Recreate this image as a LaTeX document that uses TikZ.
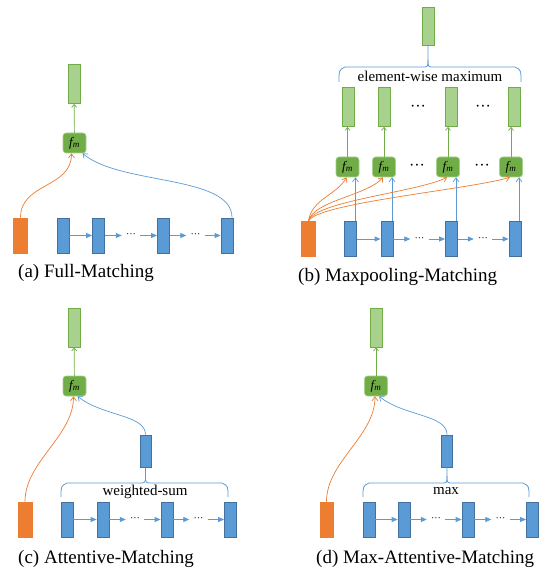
\documentclass[tikz,border=0pt]{standalone}
\usepackage{fontspec}
\setmainfont{Liberation Serif}
\usetikzlibrary{arrows.meta,positioning}
\definecolor{blfill}{HTML}{5B9BD5}
\definecolor{blline}{HTML}{41719C}
\definecolor{orfill}{HTML}{ED7D31}
\definecolor{gndark}{HTML}{70AD47}
\definecolor{gnlight}{HTML}{A9D18E}

\begin{document}
\begin{tikzpicture}[x=1pt,y=-1pt,%
  vec/.style={draw=blline,fill=blfill,line width=.8pt,minimum width=12pt,minimum height=35pt,inner sep=0pt},%
  qvec/.style={draw=orfill,fill=orfill,line width=.8pt,minimum width=14pt,minimum height=35pt,inner sep=0pt},%
  outvec/.style={draw=gndark,fill=gnlight,line width=.8pt,minimum width=12pt,minimum height=39pt,inner sep=0pt},%
  attvec/.style={vec,minimum width=11pt,minimum height=32pt},%
  fmbox/.style={draw=gnlight,fill=gndark,rounded corners=3pt,line width=.6pt,minimum width=23pt,minimum height=20pt,inner sep=0pt,font=\fontsize{13}{13}\selectfont},%
  dotsnode/.style={minimum width=18pt,inner sep=0pt,font=\fontsize{10}{10}\selectfont},%
  bigdots/.style={inner sep=0pt,font=\fontsize{16}{16}\selectfont},%
  nextarr/.style={draw=blfill,line width=.8pt,-{Triangle[length=6pt,width=5pt]}},%
  bluearr/.style={draw=blfill,line width=.7pt,-{Straight Barb[length=4pt,width=6pt]}},%
  orarr/.style={draw=orfill,line width=.7pt,-{Straight Barb[length=4pt,width=6pt]}},%
  gnarr/.style={draw=gndark,line width=.7pt,-{Straight Barb[length=3pt,width=5pt]}},%
  bracel/.style={draw=blfill,line width=.8pt},%
  caption/.style={anchor=west,inner sep=0pt,font=\fontsize{19}{19}\selectfont},%
  bracetext/.style={inner sep=0pt,font=\fontsize{15}{15}\selectfont}%
  ]%
\useasboundingbox[fill=white] (0,0) rectangle (548,577);

% (a) full matching
\node[qvec] (aq) at (20.5,235.5) {};
\node[vec] (a1) at (63,235.5) {};
\node[vec] (a2) at (98.5,235.5) {};
\node[vec] (a3) at (163.5,235.5) {};
\node[vec] (a4) at (227,235.5) {};
\node[dotsnode] (ad1) at (131,235.5) {\strut···};
\node[dotsnode] (ad2) at (195.5,235.5) {\strut···};
\draw[nextarr] (a1) -- (a2);
\draw[nextarr] (a2) -- (ad1);
\draw[nextarr] (ad1) -- (a3);
\draw[nextarr] (a3) -- (ad2);
\draw[nextarr] (ad2) -- (a4);
\node[fmbox] (afm) at (74.5,143) {\textit{f\textsubscript{m}}};
\node[outvec] (aout) at (74,84) {};
\draw[gnarr] (afm) -- (aout);
\draw[orarr] (aq.north) .. controls +(0,-35) and +(0,35) .. ([xshift=-3pt]afm.south);
\draw[bluearr] ([xshift=5pt]a4.north) .. controls +(0,-43) and +(37,32) .. ([xshift=8pt]afm.south);
\node[caption] (acap) at (18,273) {(a) Full-Matching};

% (b) maxpooling matching
\node[qvec] (bq) at (308.5,239) {};
\node[vec] (b1) at (350.5,239) {};
\node[vec] (b2) at (387,239) {};
\node[vec] (b3) at (451.5,239) {};
\node[vec] (b4) at (515,239) {};
\node[dotsnode] (bd1) at (419.5,239) {\strut···};
\node[dotsnode] (bd2) at (483,239) {\strut···};
\draw[nextarr] (b1) -- (b2);
\draw[nextarr] (b2) -- (bd1);
\draw[nextarr] (bd1) -- (b3);
\draw[nextarr] (b3) -- (bd2);
\draw[nextarr] (bd2) -- (b4);
\node[fmbox] (bfm1) at (347.5,167) {\textit{f\textsubscript{m}}};
\node[fmbox] (bfm2) at (384,167) {\textit{f\textsubscript{m}}};
\node[fmbox] (bfm3) at (448,167) {\textit{f\textsubscript{m}}};
\node[fmbox] (bfm4) at (511,167) {\textit{f\textsubscript{m}}};
\node[bigdots] (bfd1) at (417,167) {\strut···};
\node[bigdots] (bfd2) at (482,167) {\strut···};
\node[outvec] (bout1) at (348.5,107) {};
\node[outvec] (bout2) at (384.5,107) {};
\node[outvec] (bout3) at (451.5,107) {};
\node[outvec] (bout4) at (514,107) {};
\node[bigdots] (bod1) at (418,108) {\strut···};
\node[bigdots] (bod2) at (483,108) {\strut···};
\draw[gnarr] (bfm1) -- (bfm1 |- bout1.south);
\draw[gnarr] (bfm2) -- (bfm2 |- bout2.south);
\draw[gnarr] (bfm3) -- (bfm3 |- bout3.south);
\draw[gnarr] (bfm4) -- (bfm4 |- bout4.south);
\draw[bluearr] ([xshift=8pt]bfm1.south |- b1.north) -- ([xshift=8pt]bfm1.south);
\draw[bluearr] ([xshift=8pt]bfm2.south |- b2.north) -- ([xshift=8pt]bfm2.south);
\draw[bluearr] ([xshift=8pt]bfm3.south |- b3.north) -- ([xshift=8pt]bfm3.south);
\draw[bluearr] ([xshift=8pt]bfm4.south |- b4.north) -- ([xshift=8pt]bfm4.south);
\draw[orarr] (bq.north) .. controls +(3,-22) and +(-10,18) .. ([xshift=-1pt]bfm1.south);
\draw[orarr] (bq.north) .. controls +(4,-20) and +(-15,18) .. ([xshift=-1pt]bfm2.south);
\draw[orarr] (bq.north) .. controls +(6,-20) and +(-30,15) .. ([xshift=-1pt]bfm3.south);
\draw[orarr] (bq.north) .. controls +(8,-18) and +(-40,12) .. ([xshift=-1pt]bfm4.south);
\node[outvec,minimum height=38pt] (btop) at (428,26) {};
\coordinate (bbl) at (339,82);
\coordinate (bbr) at (521,82);
\draw[bracel] (bbl) .. controls (339,70) .. (345,67) -- (422,67) .. controls (428,67) .. (428,60) -- (btop.south);
\draw[bracel] (428,60) .. controls (428,67) .. (434,67) -- (515,67) .. controls (521,70) .. (bbr);
\node[bracetext] (bmax) at (430,76) {element-wise maximum};
\node[caption] (bcap) at (298,277) {(b) Maxpooling-Matching};

% (c) attentive matching
\node[qvec] (cq) at (25,519.5) {};
\node[vec] (c1) at (67,519.5) {};
\node[vec] (c2) at (103,519.5) {};
\node[vec] (c3) at (167,519.5) {};
\node[vec] (c4) at (230.5,519.5) {};
\node[dotsnode] (cd1) at (135,519.5) {\strut···};
\node[dotsnode] (cd2) at (198.5,519.5) {\strut···};
\draw[nextarr] (c1) -- (c2);
\draw[nextarr] (c2) -- (cd1);
\draw[nextarr] (cd1) -- (c3);
\draw[nextarr] (c3) -- (cd2);
\draw[nextarr] (cd2) -- (c4);
\node[attvec] (catt) at (145.5,451) {};
\coordinate (cbl) at (61,497);
\coordinate (cbr) at (228,497);
\draw[bracel] (cbl) .. controls (61,486) .. (67,483) -- (139,483) .. controls (145.5,483) .. (145.5,476) -- (catt.south);
\draw[bracel] (145.5,476) .. controls (145.5,483) .. (152,483) -- (222,483) .. controls (228,486) .. (cbr);
\node[bracetext] (csum) at (145,492) {weighted-sum};
\node[fmbox] (cfm) at (74.5,386) {\textit{f\textsubscript{m}}};
\node[outvec] (cout) at (74,327.5) {};
\draw[gnarr] (cfm) -- (cout);
\draw[orarr] (cq.north) .. controls +(0,-40) and +(0,40) .. ([xshift=-1pt]cfm.south);
\draw[bluearr] (catt.north) .. controls +(0,-20) and +(25,20) .. ([xshift=3pt]cfm.south);
\node[caption] (ccap) at (18,559) {(c) Attentive-Matching};

% (d) max attentive matching
\node[qvec,minimum width=13pt] (dq) at (326.5,519.5) {};
\node[vec] (d1) at (369,519.5) {};
\node[vec] (d2) at (404,519.5) {};
\node[vec] (d3) at (468,519.5) {};
\node[vec] (d4) at (532.5,519.5) {};
\node[dotsnode] (dd1) at (436,519.5) {\strut···};
\node[dotsnode] (dd2) at (500.5,519.5) {\strut···};
\draw[nextarr] (d1) -- (d2);
\draw[nextarr] (d2) -- (dd1);
\draw[nextarr] (dd1) -- (d3);
\draw[nextarr] (d3) -- (dd2);
\draw[nextarr] (dd2) -- (d4);
\node[attvec] (datt) at (447,451) {};
\coordinate (dbl) at (363,497);
\coordinate (dbr) at (529,497);
\draw[bracel] (dbl) .. controls (363,486) .. (369,483) -- (441,483) .. controls (447,483) .. (447,476) -- (datt.south);
\draw[bracel] (447,476) .. controls (447,483) .. (453,483) -- (523,483) .. controls (529,486) .. (dbr);
\node[bracetext] (dmax) at (446,491.5) {max};
\node[fmbox] (dfm) at (376,386) {\textit{f\textsubscript{m}}};
\node[outvec] (dout) at (376,327.5) {};
\draw[gnarr] (dfm) -- (dout);
\draw[orarr] (dq.north) .. controls +(0,-40) and +(0,40) .. ([xshift=-1pt]dfm.south);
\draw[bluearr] (datt.north) .. controls +(0,-20) and +(25,20) .. ([xshift=3pt]dfm.south);
\node[caption] (dcap) at (316,559) {(d) Max-Attentive-Matching};
\end{tikzpicture}
\end{document}
